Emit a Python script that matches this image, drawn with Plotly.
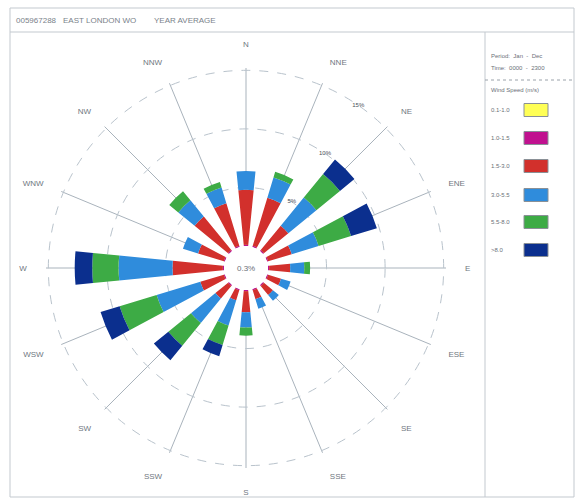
import plotly.graph_objects as go

directions = ["N", "NNE", "NE", "ENE", "E", "ESE", "SE", "SSE",
              "S", "SSW", "SW", "WSW", "W", "WNW", "NW", "NNW"]

speed_classes = ["0.1-1.0", "1.0-1.5", "1.5-3.0", "3.0-5.5", "5.5-8.0", ">8.0"]

# percent frequency per direction for each wind-speed class
s_01_10 = [0.0] * 16
s_10_15 = [0.1, 0.1, 0.1, 0.1, 0.1, 0.1, 0.1, 0.1, 0.1, 0.1, 0.1, 0.1, 0.1, 0.1, 0.1, 0.1]
s_15_30 = [4.7, 4.3, 2.7, 2.1, 1.8, 1.15, 1.0, 0.8, 1.8, 0.9, 1.4, 2.1, 4.3, 2.3, 3.7, 3.8]
s_30_55 = [1.6, 1.8, 3.1, 2.4, 1.2, 0.85, 0.65, 0.85, 1.3, 2.25, 2.7, 3.9, 4.6, 1.35, 1.8, 1.4]
s_55_80 = [0.0, 0.5, 2.6, 2.9, 0.5, 0.0, 0.0, 0.0, 0.7, 1.75, 2.5, 3.3, 2.25, 0.0, 1.0, 0.5]
s_80_up = [0.0, 0.0, 1.6, 2.3, 0.0, 0.0, 0.0, 0.0, 0.0, 1.0, 1.6, 1.7, 1.5, 0.0, 0.0, 0.0]

series = [s_01_10, s_10_15, s_15_30, s_30_55, s_55_80, s_80_up]
colors = ["#ffff55", "#c0118f", "#d2302c", "#2f8cdc", "#3dab45", "#0b2f8e"]

ring_values = [5, 10, 15]
ring_labels = ["5%", "10%", "15%"]
ring_label_angle = 34.6

calm_text = "0.3%"
title_parts = ["005967288", "EAST LONDON WO", "YEAR AVERAGE"]
period_lines = ["Period:&nbsp;&nbsp;Jan&nbsp;&nbsp;-&nbsp;&nbsp;Dec", "Time:&nbsp;&nbsp;0000&nbsp;&nbsp;-&nbsp;&nbsp;2300"]
legend_title = "Wind Speed (m/s)"

W, H = 575, 498
FONT = "Liberation Sans, Arial, sans-serif"
GRID = "#b9c3cc"
TXT = "#6f7780"
RMAX = 15.2
HOLE = 0.11

fig = go.Figure()
for name, vals, col in zip(speed_classes, series, colors):
    fig.add_trace(go.Barpolar(
        r=vals, theta=directions, name=name, width=[0.5] * 16,
        marker=dict(color=col, line=dict(width=0)), showlegend=False,
    ))

# ring labels on an overlaid, invisible polar with the same geometry
fig.add_trace(go.Scatterpolar(
    r=ring_values, theta=[ring_label_angle] * len(ring_values), mode="text",
    text=ring_labels, textposition="middle center", subplot="polar2",
    textfont=dict(size=6, color="#4a5058", family=FONT), showlegend=False, hoverinfo="skip",
))

cx, cy, R = 246, 268, 200
dom = dict(x=[(cx - R) / W, (cx + R) / W], y=[1 - (cy + R) / H, 1 - (cy - R) / H])
fig.update_layout(
    width=W, height=H,
    margin=dict(l=0, r=0, t=0, b=0),
    paper_bgcolor="white",
    font=dict(family=FONT, color=TXT, size=8),
    polar=dict(
        domain=dom, hole=HOLE, bgcolor="white", barmode="stack",
        angularaxis=dict(
            rotation=90, direction="clockwise",
            showline=False, showgrid=True, gridcolor="#a9b3bc", gridwidth=1,
            ticks="outside", ticklen=17, tickcolor="rgba(0,0,0,0)",
            tickfont=dict(size=8, color=TXT, family=FONT),
        ),
        radialaxis=dict(
            range=[0, RMAX], tickvals=ring_values, showticklabels=False,
            showline=False, showgrid=True, gridcolor=GRID, griddash="dash", ticks="",
        ),
    ),
    polar2=dict(
        domain=dom, hole=HOLE, bgcolor="rgba(0,0,0,0)",
        angularaxis=dict(rotation=90, direction="clockwise", showline=False,
                         showgrid=False, showticklabels=False, ticks=""),
        radialaxis=dict(range=[0, RMAX], showline=False, showgrid=False,
                        showticklabels=False, ticks=""),
    ),
)

shapes = []
lc = "#c3c9cf"
shapes.append(dict(type="rect", xref="paper", yref="paper", x0=10 / W, x1=574 / W,
                   y0=1 - 497 / H, y1=1 - 8 / H, line=dict(color=lc, width=1)))
shapes.append(dict(type="line", xref="paper", yref="paper", x0=10 / W, x1=574 / W,
                   y0=1 - 32 / H, y1=1 - 32 / H, line=dict(color=lc, width=1)))
shapes.append(dict(type="line", xref="paper", yref="paper", x0=485 / W, x1=485 / W,
                   y0=1 - 497 / H, y1=1 - 32 / H, line=dict(color=lc, width=1)))
shapes.append(dict(type="line", xref="paper", yref="paper", x0=485 / W, x1=574 / W,
                   y0=1 - 80 / H, y1=1 - 80 / H, line=dict(color="#9aa2aa", width=1, dash="dot")))

annotations = []
for t, xx in zip(title_parts, [14, 61, 152]):
    annotations.append(dict(text=t, x=xx / W, y=1 - 20 / H, xref="paper", yref="paper",
                            xanchor="left", yanchor="middle", showarrow=False,
                            font=dict(size=8, color="#7a828a", family=FONT)))
annotations.append(dict(text=calm_text, x=cx / W, y=1 - cy / H, xref="paper", yref="paper",
                        xanchor="center", yanchor="middle", showarrow=False,
                        font=dict(size=8, color="#6a7078", family=FONT)))
for i, t in enumerate(period_lines):
    annotations.append(dict(text=t, x=489 / W, y=1 - (56 + 12 * i) / H, xref="paper", yref="paper",
                            xanchor="left", yanchor="middle", showarrow=False,
                            font=dict(size=6, color="#6a7078", family=FONT)))
annotations.append(dict(text=legend_title, x=489 / W, y=1 - 90 / H, xref="paper", yref="paper",
                        xanchor="left", yanchor="middle", showarrow=False,
                        font=dict(size=6, color="#6a7078", family=FONT)))
ys = [110, 138, 166, 195, 222, 250]
for name, col, yy in zip(speed_classes, colors, ys):
    annotations.append(dict(text=name, x=489 / W, y=1 - yy / H, xref="paper", yref="paper",
                            xanchor="left", yanchor="middle", showarrow=False,
                            font=dict(size=6, color="#6a7078", family=FONT)))
    shapes.append(dict(type="rect", xref="paper", yref="paper",
                       x0=524 / W, x1=548 / W, y0=1 - (yy + 6.5) / H, y1=1 - (yy - 6.5) / H,
                       fillcolor=col, line=dict(color="#8a9096", width=1)))

fig.update_layout(shapes=shapes, annotations=annotations)
fig.write_html("out.html")
